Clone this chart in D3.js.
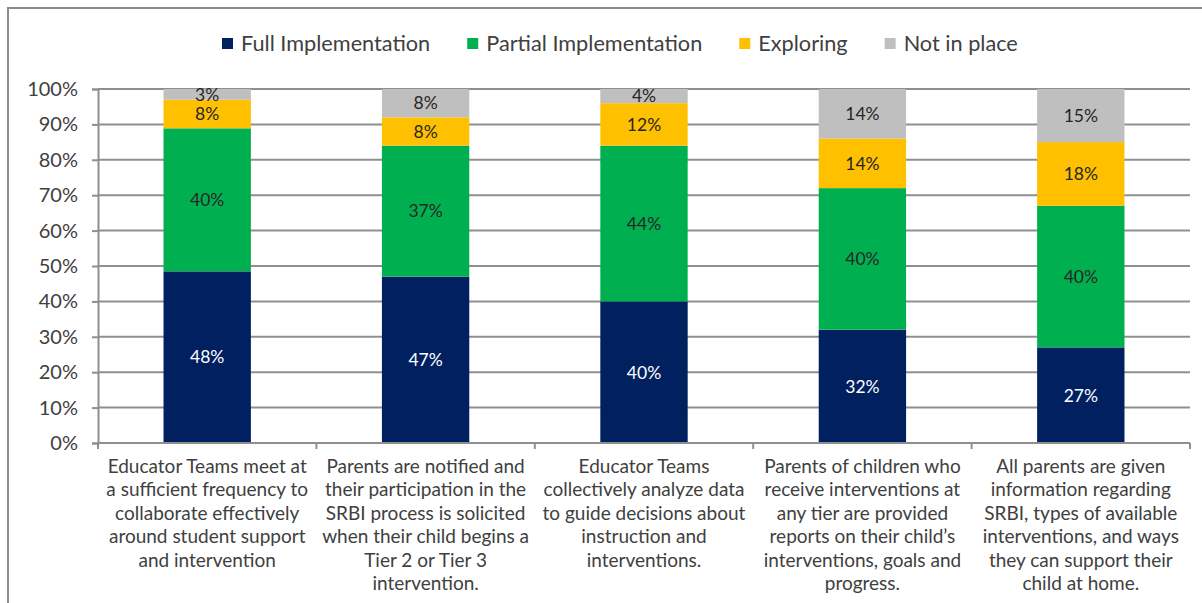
<!DOCTYPE html>
<html><head><meta charset="utf-8">
<script src="https://cdn.jsdelivr.net/npm/d3@7"></script>
<style>body{margin:0;background:#fff}svg{display:block}</style>
</head><body>
<svg id="c" width="1202" height="603"></svg>
<script>
const categories = [
  "Educator Teams meet at|a sufficient frequency to|collaborate effectively|around student support|and intervention",
  "Parents are notified and|their participation in the|SRBI process is solicited|when their child begins a|Tier 2 or Tier 3|intervention.",
  "Educator Teams|collectively analyze data|to guide decisions about|instruction and|interventions.",
  "Parents of children who|receive interventions at|any tier are provided|reports on their child\u2019s|interventions, goals and|progress.",
  "All parents are given|information regarding|SRBI, types of available|interventions, and ways|they can support their|child at home."
];
const seriesNames = ["Full Implementation", "Partial Implementation", "Exploring", "Not in place"];
const fullImpl = [48, 47, 40, 32, 27];
const partialImpl = [40, 37, 44, 40, 40];
const exploring = [8, 8, 12, 14, 18];
const notInPlace = [3, 8, 4, 14, 15];
const yTicks = [0, 0.1, 0.2, 0.3, 0.4, 0.5, 0.6, 0.7, 0.8, 0.9, 1.0];

const colors = ["#002060", "#00B050", "#FFC000", "#BFBFBF"];
const labelColors = ["#ffffff", "#262626", "#262626", "#262626"];
const font = "Lato, 'Open Sans', sans-serif";

const rows = categories.map((c, i) => ({
  cat: c, "Full Implementation": fullImpl[i], "Partial Implementation": partialImpl[i],
  "Exploring": exploring[i], "Not in place": notInPlace[i]
}));
const stacked = d3.stack().keys(seriesNames).offset(d3.stackOffsetExpand)(rows);

const svg = d3.select("#c");
svg.append("rect").attr("x", 8).attr("y", 8).attr("width", 1220).attr("height", 620)
  .attr("fill", "none").attr("stroke", "#8c8c8c").attr("stroke-width", 2);

const m = {left: 98, right: 1190, top: 89, bottom: 443};
const x = d3.scaleBand().domain(categories).range([m.left, m.right]).paddingInner(0.6).paddingOuter(0.3);
const xb = d3.scaleBand().domain(categories).range([m.left, m.right]);
const y = d3.scaleLinear().domain([0, 1]).range([m.bottom, m.top]);

svg.append("g").selectAll("line").data(yTicks.filter(t => t > 0)).join("line")
  .attr("x1", m.left).attr("x2", m.right).attr("y1", d => y(d)).attr("y2", d => y(d))
  .attr("stroke", "#8f8f8f").attr("stroke-width", 2);

const yAxis = svg.append("g").attr("transform", `translate(${m.left},0)`)
  .call(d3.axisLeft(y).tickValues(yTicks).tickFormat(d3.format(".0%")).tickSize(6).tickPadding(14));
yAxis.select(".domain").attr("stroke", "#8f8f8f").attr("stroke-width", 2);
yAxis.selectAll(".tick line").attr("stroke", "#8f8f8f").attr("stroke-width", 2);
yAxis.selectAll("text").attr("font-family", font).attr("font-size", 20).attr("fill", "#404040");

const g = svg.append("g");
stacked.forEach((s, si) => {
  g.append("g").selectAll("rect").data(s).join("rect")
    .attr("x", d => x(d.data.cat)).attr("width", x.bandwidth())
    .attr("y", d => y(d[1])).attr("height", d => y(d[0]) - y(d[1]))
    .attr("fill", colors[si]);
  g.append("g").selectAll("text").data(s).join("text")
    .attr("x", d => x(d.data.cat) + x.bandwidth() / 2)
    .attr("y", d => (y(d[0]) + y(d[1])) / 2)
    .attr("dy", "0.36em").attr("text-anchor", "middle")
    .attr("font-family", font).attr("font-size", 17.5).attr("fill", labelColors[si])
    .text(d => d.data[seriesNames[si]] + "%");
});

const xAxis = svg.append("g").attr("transform", `translate(0,${m.bottom})`);
xAxis.append("line").attr("x1", m.left).attr("x2", m.right).attr("stroke", "#8f8f8f").attr("stroke-width", 2);
const bounds = categories.map(c => xb(c)).concat([m.right]);
xAxis.selectAll(".tk").data(bounds).join("line").attr("class", "tk")
  .attr("x1", d => d).attr("x2", d => d).attr("y1", 0).attr("y2", 6)
  .attr("stroke", "#8f8f8f").attr("stroke-width", 2);
const labs = xAxis.selectAll(".cl").data(categories).join("text").attr("class", "cl")
  .attr("font-family", font).attr("font-size", 19).attr("fill", "#404040").attr("text-anchor", "middle");
labs.each(function(c) {
  const t = d3.select(this);
  c.split("|").forEach((line, i) => {
    t.append("tspan").attr("x", xb(c) + xb.bandwidth() / 2).attr("y", 30 + i * 23.4).text(line);
  });
});

const leg = svg.append("g").attr("transform", "translate(222,0)");
let lx = 0;
seriesNames.forEach((n, i) => {
  const it = leg.append("g").attr("transform", `translate(${lx},0)`);
  it.append("rect").attr("x", 0).attr("y", 38).attr("width", 11).attr("height", 11).attr("fill", colors[i]);
  const tx = it.append("text").attr("x", 19).attr("y", 51).attr("font-family", font)
    .attr("font-size", 21.7).attr("fill", "#404040").text(n);
  lx += 19 + tx.node().getComputedTextLength() + 37;
});
</script>
</body></html>
